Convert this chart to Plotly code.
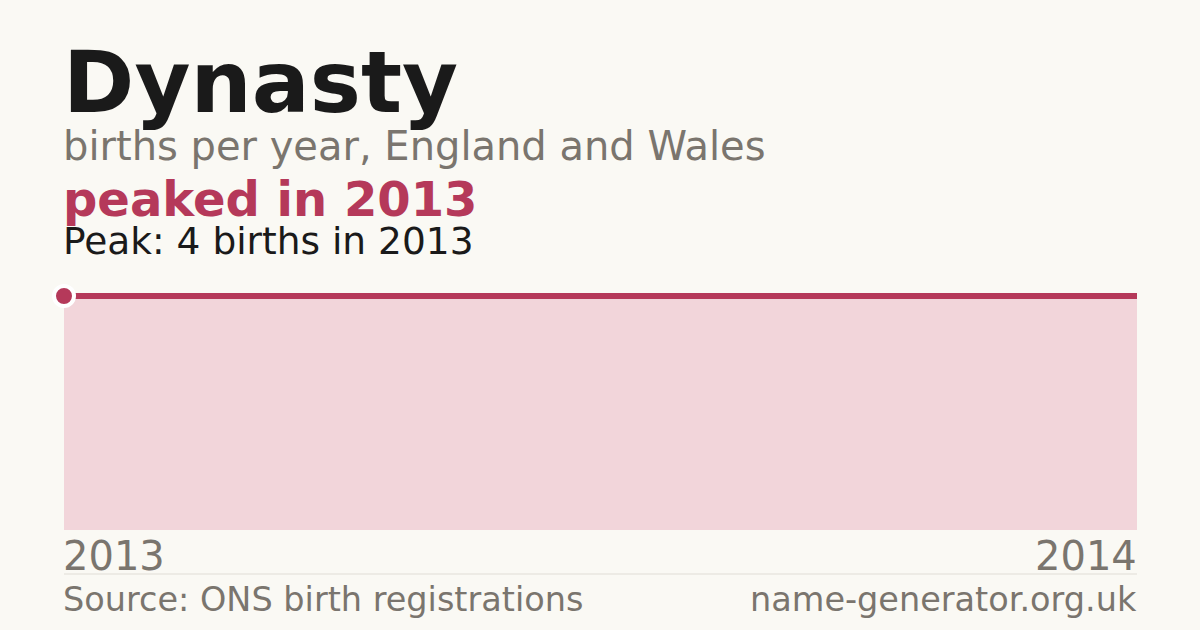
import plotly.graph_objects as go

years = [2013, 2014]
births = [4, 4]
name = "Dynasty"
subtitle = "births per year, England and Wales"
headline = "peaked in 2013"
peak_text = "Peak: 4 births in 2013"
source = "Source: ONS birth registrations"
site = "name-generator.org.uk"

BG = "#faf9f4"
RED = "#b5395a"
FILL = "#f2d5da"
GRAY = "#7a756e"
DARK = "#1a1a1a"
FONT = "DejaVu Sans"

W, H = 1200, 630
L, R, T, B = 64, 63, 270, 100
PH = H - T - B

def py(pix):
    return (H - B - pix) / PH

peak_i = max(range(len(births)), key=lambda i: births[i])

fig = go.Figure()
fig.add_trace(go.Scatter(
    x=years, y=births, mode="lines",
    line=dict(color=RED, width=6),
    fill="tozeroy", fillcolor=FILL,
    hoverinfo="skip", showlegend=False, cliponaxis=False,
))
fig.add_trace(go.Scatter(
    x=[years[peak_i]], y=[births[peak_i]], mode="markers",
    marker=dict(color=RED, size=20, line=dict(color="white", width=4)),
    hoverinfo="skip", showlegend=False, cliponaxis=False,
))

ann = []
def text(s, x, ypix, size, color, bold=False, xanchor="left"):
    ann.append(dict(
        text=f"<b>{s}</b>" if bold else s,
        x=x, xref="paper", y=py(ypix), yref="paper",
        xanchor=xanchor, yanchor="middle", showarrow=False,
        borderpad=0, borderwidth=0,
        xshift=-1 if xanchor == "left" else 0,
        font=dict(family=FONT, size=size, color=color),
    ))

text(name, 0, 82, 86, DARK, bold=True)
text(subtitle, 0, 146, 40, GRAY)
text(headline, 0, 199, 48, RED, bold=True)
text(peak_text, 0, 241, 37.5, DARK)
text(str(years[0]), 0, 556, 40, GRAY)
text(str(years[-1]), 1, 556, 40, GRAY, xanchor="right")
text(source, 0, 599, 33.5, GRAY)
text(site, 1, 599, 33.5, GRAY, xanchor="right")

fig.update_layout(
    width=W, height=H,
    margin=dict(l=L, r=R, t=T, b=B),
    paper_bgcolor=BG, plot_bgcolor=BG,
    xaxis=dict(range=[years[0], years[-1]], visible=False, fixedrange=True),
    yaxis=dict(range=[0, max(births) / 0.9], visible=False, fixedrange=True),
    annotations=ann,
    shapes=[dict(type="line", xref="paper", yref="paper",
                 x0=0, x1=1, y0=py(574), y1=py(574),
                 line=dict(color="#e0ddd6", width=1))],
)

fig.write_html(
    "out.html",
    config={"displayModeBar": False, "staticPlot": True},
    post_script="document.body.style.margin='0';document.body.style.background='%s';" % BG,
)
